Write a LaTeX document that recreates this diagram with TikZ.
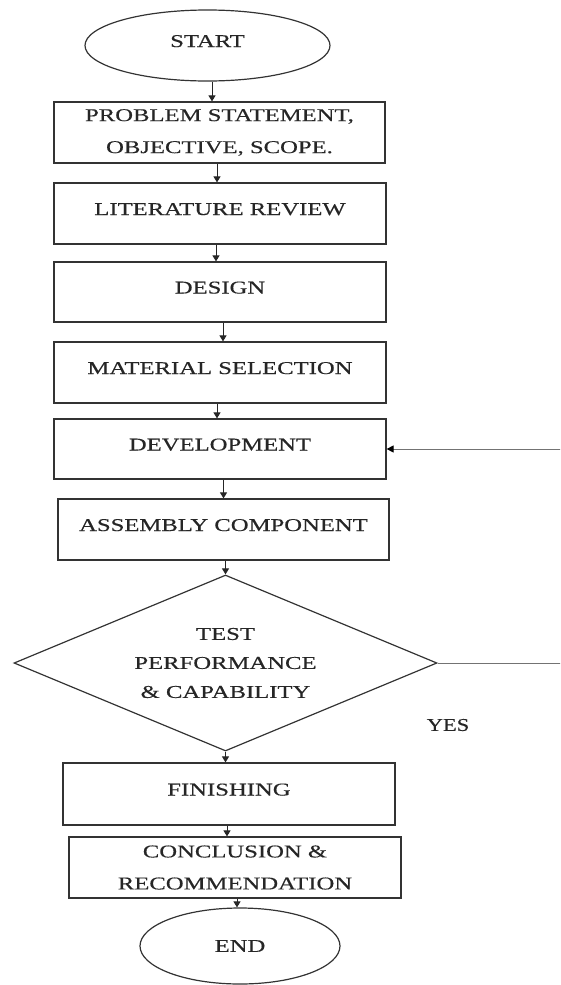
\documentclass[tikz,border=0pt]{standalone}
\usepackage{fontspec}
\usepackage{graphicx}
\setmainfont{Liberation Serif}
\newfontfamily\heavyserif[BoldFont={Liberation Serif},BoldFeatures={FakeBold=0.35}]{Liberation Serif}
\usetikzlibrary{shapes.geometric,arrows.meta}
\newcommand{\wt}[1]{\scalebox{1.37}[1]{#1}}
\tikzset{
  base/.style={draw=black!80, line width=1.2pt, inner sep=0pt, align=center, text=black!85,
    font=\fontsize{18pt}{32pt}\heavyserif\bfseries},
  onel/.style={text height=12pt, text depth=9pt},
  stepbox/.style={base, rectangle, minimum width=332pt, minimum height=61pt},
  term/.style={base, ellipse},
  decide/.style={base, diamond, aspect=2.4, minimum width=423pt, minimum height=176pt},
  arr/.style={draw=black!85, line width=1pt, -{Triangle[length=6pt,width=7pt]}},
  back/.style={draw=black!55, line width=1pt, -{Triangle[length=7pt,width=7pt,fill=black,color=black]}},
}
\begin{document}
\begin{tikzpicture}[x=1pt,y=-1pt]
\useasboundingbox (0,0) rectangle (560,985);
\clip (0,0) rectangle (560,985);
\node[term, onel, minimum width=245pt, minimum height=71pt] (start) at (207.5,45.5) {\wt{START}};
\node[stepbox, minimum width=331pt] (b1) at (219.5,132.5) {\wt{PROBLEM STATEMENT,}\\\wt{OBJECTIVE, SCOPE.}};
\node[stepbox, onel] (b2) at (220,213.5) {\wt{LITERATURE REVIEW}};
\node[stepbox, onel, minimum height=60pt] (b3) at (220,292) {\wt{DESIGN}};
\node[stepbox, onel] (b4) at (220,372.5) {\wt{MATERIAL SELECTION}};
\node[stepbox, onel, minimum height=60pt] (b5) at (220,449) {\wt{DEVELOPMENT}};
\node[stepbox, onel, minimum width=331pt] (b6) at (223.5,529.5) {\wt{ASSEMBLY COMPONENT}};
\node[decide] (dia) at (225.5,663) {\wt{TEST}\\[-3pt]\wt{PERFORMANCE}\\[-3pt]\wt{\& CAPABILITY}};
\node[stepbox, onel, minimum height=62pt] (b7) at (229,794) {\wt{FINISHING}};
\node[stepbox] (b8) at (235,867.5) {\wt{CONCLUSION \&}\\\wt{RECOMMENDATION}};
\node[term, minimum width=200pt, minimum height=76pt] (end) at (240,946) {\wt{END}};
\node[base, draw=none] (yes) at (448,725) {\scalebox{1.25}[1]{YES}};

\draw[arr] ([xshift=-7.5pt]b1.north |- start.south) -- ([xshift=-7.5pt]b1.north);
\draw[arr] ([xshift=-3pt]b2.north |- b1.south) -- ([xshift=-3pt]b2.north);
\draw[arr] ([xshift=-4pt]b3.north |- b2.south) -- ([xshift=-4pt]b3.north);
\draw[arr] ([xshift=3pt]b4.north |- b3.south) -- ([xshift=3pt]b4.north);
\draw[arr] ([xshift=-3pt]b5.north |- b4.south) -- ([xshift=-3pt]b5.north);
\draw[arr] (b6.north |- b5.south) -- (b6.north);
\draw[arr] (dia.north |- b6.south) -- (dia.north);
\draw[arr] (dia.south) -- (dia.south |- b7.north);
\draw[arr] ([xshift=-8pt]b8.north |- b7.south) -- ([xshift=-8pt]b8.north);
\draw[arr] ([xshift=-3pt]end.north |- b8.south) -- ([xshift=-3pt]end.north);
\draw[back] (dia.east) -- ++(135pt,0) |- (b5.east);
\end{tikzpicture}
\end{document}
